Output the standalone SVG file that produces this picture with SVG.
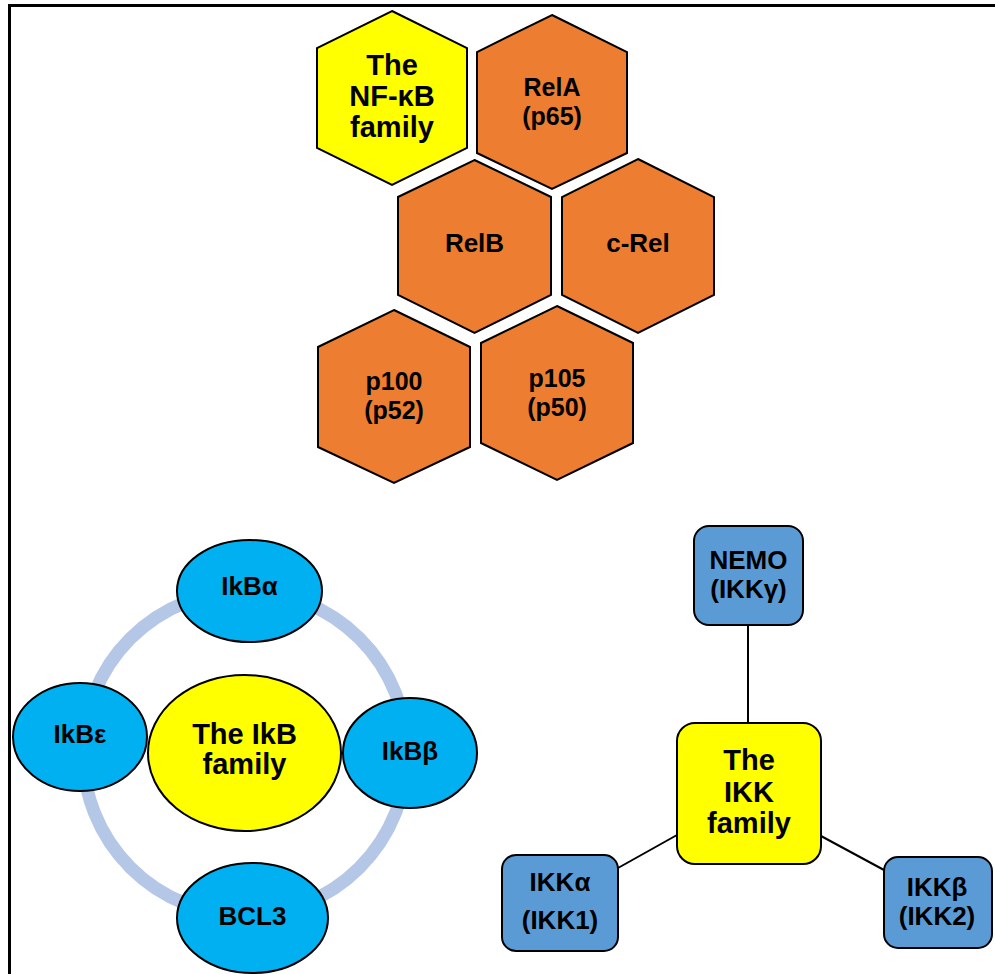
<svg xmlns="http://www.w3.org/2000/svg" width="995" height="974" viewBox="0 0 995 974">
<style>
.t{font-family:"Liberation Sans",Arial,sans-serif;font-weight:bold;fill:#000;text-anchor:middle}
.b{font-size:29px}
.s{font-size:26px}
.h{font-size:25px}
.hexY{fill:#FFFF00;stroke:#000;stroke-width:2}
.hexO{fill:#ED7D31;stroke:#000;stroke-width:2}
.ell{fill:#00B0F0;stroke:#000;stroke-width:2}
.ellY{fill:#FFFF00;stroke:#000;stroke-width:2}
.box{fill:#5B9BD5;stroke:#000;stroke-width:2}
.boxY{fill:#FFFF00;stroke:#000;stroke-width:2}
.con{stroke:#000;stroke-width:2;fill:none}
</style>
<rect width="995" height="974" fill="#fff"/>
<g id="frame">
<line x1="9" y1="5.5" x2="995" y2="5.5" stroke="#000" stroke-width="3"/>
<line x1="9.5" y1="4" x2="9.5" y2="974" stroke="#000" stroke-width="3"/>
</g>
<g id="ring">
<circle cx="245" cy="753" r="162" fill="none" stroke="#B4C7E7" stroke-width="13"/>
</g>
<g id="connectors">
<line class="con" x1="748" y1="625" x2="748" y2="723"/>
<line class="con" x1="677" y1="835" x2="618" y2="868"/>
<line class="con" x1="821" y1="836" x2="884" y2="870"/>
</g>
<g id="nfkb-family">
<polygon class="hexY" points="392,11 467,48 467,148 392,185 317,148 317,48"/>
<text class="t b" x="392" y="75">The</text>
<text class="t b" x="392" y="106">NF-κB</text>
<text class="t b" x="392" y="137">family</text>
</g>
<g id="rela">
<polygon class="hexO" points="552,15 627,52 627,153 552,189 477,153 477,52"/>
<text class="t h" x="552" y="96">RelA</text>
<text class="t h" x="552" y="125">(p65)</text>
</g>
<g id="relb">
<polygon class="hexO" points="474.5,160 551,197 551,295 474.5,333 398,295 398,197"/>
<text class="t s" x="474.5" y="252">RelB</text>
</g>
<g id="crel">
<polygon class="hexO" points="638,159 714,197 714,295 638,333 562,295 562,197"/>
<text class="t s" x="638" y="252">c-Rel</text>
</g>
<g id="p100">
<polygon class="hexO" points="394,310 470,347 470,447 394,483 318,447 318,347"/>
<text class="t h" x="394" y="390">p100</text>
<text class="t h" x="394" y="419">(p52)</text>
</g>
<g id="p105">
<polygon class="hexO" points="557,306 633,343 633,443 557,480 481,443 481,343"/>
<text class="t h" x="557" y="387">p105</text>
<text class="t h" x="557" y="416">(p50)</text>
</g>
<g id="ikba">
<ellipse class="ell" cx="249.5" cy="591" rx="72.5" ry="51"/>
<text class="t s" x="249.5" y="595">IkBα</text>
</g>
<g id="ikbe">
<ellipse class="ell" cx="80" cy="737" rx="67" ry="54"/>
<text class="t s" x="80" y="743">IkBε</text>
</g>
<g id="ikb-family">
<ellipse class="ellY" cx="244.5" cy="753" rx="96.5" ry="78"/>
<text class="t b" x="244.5" y="744">The IkB</text>
<text class="t b" x="244.5" y="774">family</text>
</g>
<g id="ikbb">
<ellipse class="ell" cx="410" cy="753" rx="67" ry="55"/>
<text class="t s" x="410" y="760">IkBβ</text>
</g>
<g id="bcl3">
<ellipse class="ell" cx="252.5" cy="918" rx="75.5" ry="55"/>
<text class="t s" x="252.5" y="925">BCL3</text>
</g>
<g id="nemo">
<rect class="box" x="694" y="526" width="109" height="99" rx="15"/>
<text class="t s" x="748.5" y="569">NEMO</text>
<text class="t s" x="748.5" y="598">(IKKγ)</text>
</g>
<g id="ikk-family">
<rect class="boxY" x="677" y="723" width="144" height="141" rx="18"/>
<text class="t b" x="749" y="770">The</text>
<text class="t b" x="749" y="802">IKK</text>
<text class="t b" x="749" y="833">family</text>
</g>
<g id="ikka">
<rect class="box" x="502" y="855" width="116" height="96" rx="14"/>
<text class="t s" x="560" y="891">IKKα</text>
<text class="t s" x="560" y="929">(IKK1)</text>
</g>
<g id="ikkb">
<rect class="box" x="884" y="857" width="108" height="91" rx="14"/>
<text class="t s" x="937" y="896">IKKβ</text>
<text class="t s" x="937" y="925">(IKK2)</text>
</g>
</svg>
